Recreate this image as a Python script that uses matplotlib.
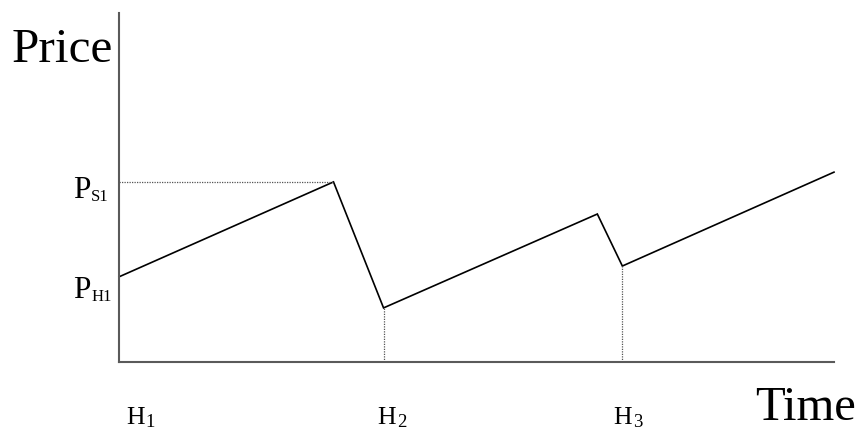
import matplotlib
matplotlib.use('Agg')
import matplotlib.pyplot as plt

plt.rcParams['font.family'] = ['Liberation Serif', 'DejaVu Serif']

# price path: rises during holding, drops at each sale/hold point
time = [0, 3.0, 3.7, 6.69, 7.04, 10]
price = [2.44, 5.16, 1.55, 4.24, 2.75, 5.44]

# which points get labels
h_idx = [0, 2, 4]
h_main = ['H', 'H', 'H']
h_sub = ['1', '2', '3']
h_dx = [7, -6, -9]          # pixel nudges of the H labels
p_idx = [1, 0]
p_sub = ['S1', 'H1']
p_dy = [-15, -20]

fig = plt.figure(figsize=(8.66, 4.31), dpi=100)
ax = fig.add_axes([119/866, 68/431, 715/866, 349/431])
ax.set_xlim(0, 10)
ax.set_ylim(0, 10)
for s in ['top', 'right']:
    ax.spines[s].set_visible(False)
for s in ['left', 'bottom']:
    ax.spines[s].set_color('#5a5a5a')
    ax.spines[s].set_linewidth(1.5)
ax.set_xticks([])
ax.set_yticks([])

ax.plot(time, price, color='black', lw=1.2, solid_joinstyle='miter', clip_on=False)

# dotted guides
dot = dict(color='#555555', lw=0.9, linestyle=(0, (1, 1)))
ax.plot([0, time[1]], [price[1], price[1]], **dot)
for i in [2, 4]:
    ax.plot([time[i], time[i]], [0, price[i]], **dot)

def sublabel(xy, xycoords, off, main, sub, size, subsize, suboff):
    t = ax.annotate(main, xy=xy, xycoords=xycoords, xytext=off,
                    textcoords='offset pixels', ha='left', va='baseline',
                    fontsize=size, annotation_clip=False)
    ax.annotate(sub, xy=(1, 0), xycoords=t, xytext=suboff,
                textcoords='offset pixels', ha='left', va='bottom',
                fontsize=subsize, annotation_clip=False)

for k, i in enumerate(h_idx):
    sublabel((time[i], 0), ('data', 'axes fraction'), (h_dx[k], -61),
             h_main[k], h_sub[k], 18.5, 13.5, (1, -2))

for k, i in enumerate(p_idx):
    sublabel((0, price[i]), ('axes fraction', 'data'), (-46, p_dy[k]),
             'P', p_sub[k], 22.5, 12, (1, 0))

ax.annotate('Price', xy=(0, 1), xycoords='axes fraction', xytext=(-6, -48),
            textcoords='offset pixels', ha='right', va='baseline', fontsize=35.5,
            annotation_clip=False)
ax.annotate('Time', xy=(1, 0), xycoords='axes fraction', xytext=(-79, -57),
            textcoords='offset pixels', ha='left', va='baseline', fontsize=35,
            annotation_clip=False)

plt.savefig('out.png', dpi=100)
